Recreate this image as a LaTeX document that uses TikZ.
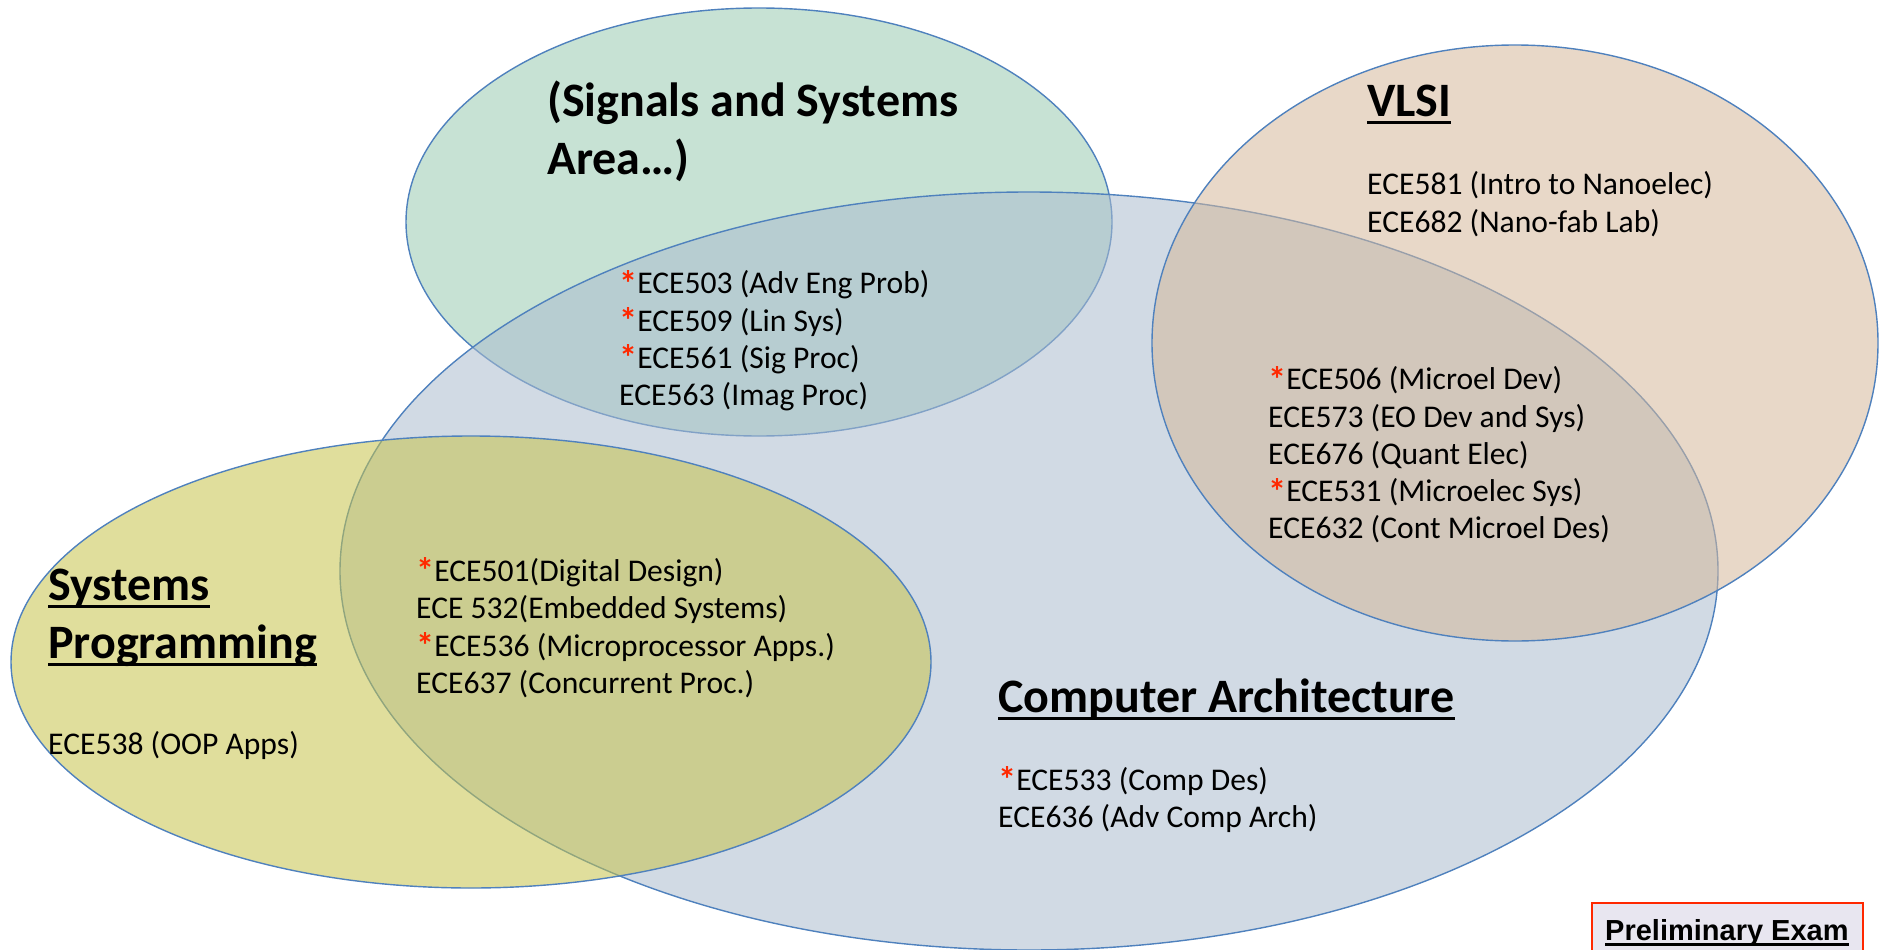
\documentclass[tikz,border=0pt]{standalone}
\usepackage{fontspec}
\setmainfont{Carlito}
\newfontfamily\examfont{Liberation Sans}
\usetikzlibrary{positioning}

\definecolor{sigfill}{RGB}{153,202,177}
\definecolor{archfill}{RGB}{171,188,206}
\definecolor{vlsifill}{RGB}{213,184,155}
\definecolor{progfill}{RGB}{199,195,75}
\definecolor{rimblue}{RGB}{79,129,189}
\definecolor{starred}{RGB}{255,40,0}
\definecolor{examfill}{RGB}{232,230,240}

\tikzstyle{area}=[draw=rimblue, line width=1.4pt, fill opacity=0.55]
\tikzstyle{title}=[inner sep=0pt, align=left,
    font=\bfseries\fontsize{48}{58}\selectfont]
\tikzstyle{course}=[inner sep=0pt, anchor=west, align=left,
    font=\fontsize{31.6}{37.3}\selectfont]

\newcommand\st{\textcolor{starred}{\smash{\raisebox{-2.5pt}{\bfseries\scalebox{1.15}{*}}}}}
\newcommand\areaul[1]{\setbox0\hbox{#1}\rlap{\vrule height -5pt depth 8pt width \wd0}\box0}

\begin{document}
\begin{tikzpicture}[x=1pt, y=-1pt]
    \useasboundingbox (0,0) rectangle (1885,950);

    % the four areas, back to front
    \path[area, fill=sigfill]  (759,222)  ellipse [x radius=353, y radius=214];
    \path[area, fill=archfill] (1029,571) ellipse [x radius=689, y radius=379];
    \path[area, fill=vlsifill] (1515,343) ellipse [x radius=363, y radius=298];
    \path[area, fill=progfill] (471,662)  ellipse [x radius=460, y radius=226];

    \node (sigtitle) [title, anchor=west] at (547,131) {(Signals and Systems\\Area…)};
    \node (sigcore) [course] at (619,341)
        {\st ECE503 (Adv Eng Prob)\\\st ECE509 (Lin Sys)\\\st ECE561 (Sig Proc)\\ECE563 (Imag Proc)};

    \node (vlsititle) [title, anchor=base west] at (1367,116) {\areaul{VLSI}};
    \node (vlsinano) [course] at (1367,204)
        {ECE581 (Intro to Nanoelec)\\ECE682 (Nano-fab Lab)};
    \node (vlsicore) [course] at (1268,455)
        {\st ECE506 (Microel Dev)\\ECE573 (EO Dev and Sys)\\ECE676 (Quant Elec)\\\st ECE531 (Microelec Sys)\\ECE632 (Cont Microel Des)};

    \node (progtitle) [title, anchor=base west] at (48,600) {\areaul{Systems}};
    \node (progtitle2) [title, anchor=base west] at (48,658) {\areaul{Programming}};
    \node (progoop) [course] at (48,745) {ECE538 (OOP Apps)};
    \node (progcore) [course] at (416,628)
        {\st ECE501(Digital Design)\\ECE 532(Embedded Systems)\\\st ECE536 (Microprocessor Apps.)\\ECE637 (Concurrent Proc.)};

    \node (archtitle) [title, anchor=base west] at (998,712) {\areaul{Computer Architecture}};
    \node (archcore) [course] at (998,800)
        {\st ECE533 (Comp Des)\\ECE636 (Adv Comp Arch)};

    % exam tag, cut by the lower edge
    \draw[draw=starred, line width=2pt, fill=examfill] (1592,903) rectangle (1863,965);
    \node (exam) [inner sep=0pt, anchor=base west, font=\examfont\bfseries\fontsize{29}{34}\selectfont]
        at (1605,940) {\setbox0\hbox{Preliminary Exam}\rlap{\vrule height -3pt depth 6pt width \wd0}\box0};
\end{tikzpicture}
\end{document}
